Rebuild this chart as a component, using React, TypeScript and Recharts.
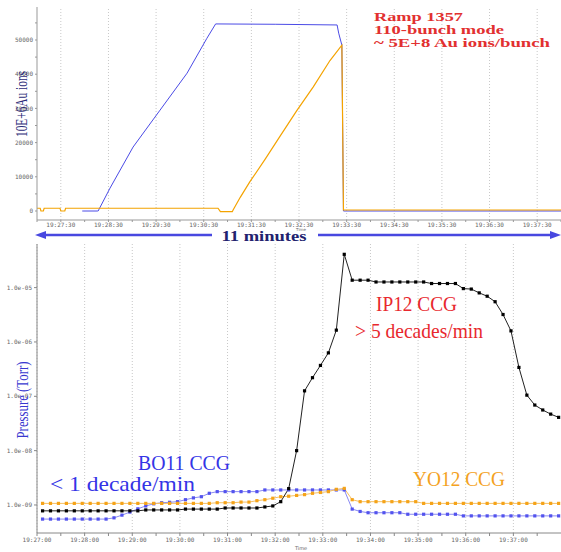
import React from "react";
import { LineChart, Line, XAxis, YAxis, ReferenceLine } from "recharts";

// all times are seconds after 19:27:00

// top panel: beam intensity (10E+6 Au ions)
const blueRingTimes = [57, 58, 76, 77, 92, 121, 155, 189, 214, 225, 300, 378, 380, 384, 386, 660];
const blueRingValues = [0, 0, 0, 0, 6700, 18700, 29500, 40300, 50500, 54700, 54600, 54400, 52000, 48500, 0, 0];
const yellowRingTimes = [0, 4, 5, 8, 9, 29, 30, 35, 36, 228, 231, 246, 247, 256, 268, 287, 306, 327, 348, 369, 384, 386, 660];
const yellowRingValues = [800, 800, 0, 0, 800, 800, 0, 0, 800, 800, -200, -200, 300, 4000, 8500, 15000, 21800, 29300, 36300, 44000, 48500, 300, 300];
const beamTicks = [0, 30, 60, 90, 120, 150, 180, 210, 240, 270, 300, 330, 360, 390, 420, 450, 480, 510, 540, 570, 600, 630, 660];
const beamLabelTimes = [30, 90, 150, 210, 270, 330, 390, 450, 510, 570, 630];
const beamYTicks = [0, 5000, 10000, 15000, 20000, 25000, 30000, 35000, 40000, 45000, 50000, 55000];

// bottom panel: CCG pressures (Torr)
const ccgTimes = [
  7, 17, 27, 37, 47, 57, 67, 77, 87, 97, 107, 117, 127, 137, 147, 157, 167, 177, 187, 197, 207, 217,
  227, 237, 247, 257, 267, 277, 287, 297, 307, 317, 327, 337, 347, 357, 367, 377, 387, 397, 407, 417,
  427, 437, 447, 457, 467, 477, 487, 497, 507, 517, 527, 537, 547, 557, 567, 577, 587, 597, 607, 617,
  627, 637, 647, 657,
];
const ip12 = [
  7.8e-10, 7.8e-10, 7.8e-10, 7.8e-10, 7.8e-10, 7.8e-10, 7.8e-10, 7.8e-10, 7.8e-10, 7.8e-10, 7.8e-10, 7.8e-10, 7.8e-10,
  8.1e-10, 8.1e-10, 8.1e-10, 8.1e-10, 8.1e-10,
  8.4e-10, 8.4e-10, 8.4e-10, 8.4e-10, 8.4e-10,
  8.8e-10, 8.8e-10, 8.8e-10, 8.8e-10, 8.8e-10,
  9.2e-10, 9.6e-10, 1.15e-9, 2.0e-9, 1.0e-8, 1.26e-7, 2.2e-7, 3.7e-7, 6.3e-7, 1.65e-6, 4.1e-5,
  1.37e-5, 1.37e-5, 1.37e-5,
  1.27e-5, 1.27e-5, 1.27e-5, 1.27e-5, 1.27e-5, 1.27e-5, 1.27e-5,
  1.19e-5, 1.19e-5, 1.19e-5, 1.19e-5,
  9.6e-6, 9.4e-6, 8.0e-6, 6.95e-6, 5.5e-6, 3.2e-6, 1.6e-6, 3.4e-7, 1.05e-7, 6.9e-8, 5.6e-8, 4.7e-8, 4.1e-8,
];
const bo11 = [
  5.5e-10, 5.5e-10, 5.5e-10, 5.5e-10, 5.5e-10, 5.5e-10, 5.5e-10, 5.5e-10, 5.5e-10,
  5.8e-10, 6.5e-10, 7.4e-10, 8.5e-10, 9.6e-10, 1.05e-9, 1.1e-9, 1.12e-9, 1.15e-9, 1.25e-9, 1.35e-9, 1.42e-9, 1.64e-9,
  1.76e-9, 1.76e-9, 1.76e-9, 1.76e-9, 1.76e-9, 1.76e-9,
  1.89e-9, 1.89e-9, 1.89e-9, 1.89e-9, 1.89e-9, 1.89e-9, 1.89e-9, 1.89e-9, 1.89e-9, 1.89e-9, 1.89e-9,
  8.4e-10, 7.6e-10,
  7.2e-10, 7.2e-10, 7.2e-10, 7.2e-10, 7.2e-10,
  6.75e-10, 6.75e-10, 6.75e-10, 6.75e-10, 6.75e-10, 6.75e-10, 6.75e-10,
  6.3e-10, 6.3e-10, 6.3e-10, 6.3e-10, 6.3e-10, 6.3e-10, 6.3e-10, 6.3e-10, 6.3e-10, 6.3e-10, 6.3e-10, 6.3e-10, 6.3e-10,
];
const yo12 = [
  1.07e-9, 1.07e-9, 1.07e-9, 1.07e-9, 1.07e-9, 1.07e-9, 1.07e-9, 1.07e-9, 1.07e-9, 1.07e-9, 1.07e-9,
  1.07e-9, 1.07e-9, 1.07e-9, 1.07e-9, 1.07e-9, 1.07e-9, 1.07e-9, 1.07e-9, 1.07e-9, 1.07e-9, 1.07e-9,
  1.1e-9, 1.1e-9, 1.1e-9, 1.13e-9, 1.13e-9, 1.2e-9, 1.25e-9, 1.33e-9, 1.42e-9, 1.45e-9, 1.5e-9, 1.55e-9,
  1.64e-9, 1.7e-9, 1.76e-9, 1.94e-9, 2.02e-9,
  1.25e-9,
  1.15e-9, 1.15e-9, 1.15e-9, 1.15e-9, 1.15e-9, 1.15e-9, 1.15e-9, 1.15e-9,
  1.07e-9, 1.07e-9, 1.07e-9, 1.07e-9, 1.07e-9, 1.07e-9, 1.07e-9, 1.07e-9, 1.07e-9,
  1.07e-9, 1.07e-9, 1.07e-9, 1.07e-9, 1.07e-9, 1.07e-9, 1.07e-9, 1.07e-9, 1.07e-9,
];
const ccgTicks = [0, 30, 60, 90, 120, 150, 180, 210, 240, 270, 300, 330, 360, 390, 420, 450, 480, 510, 540, 570, 600, 630];
const ccgLabelTimes = [0, 60, 120, 180, 240, 300, 360, 420, 480, 540, 600];
const ccgYTicks = [1e-9, 1e-8, 1e-7, 1e-6, 1e-5];

const blueData = blueRingTimes.map((t, i) => ({ t, v: blueRingValues[i] }));
const yellowData = yellowRingTimes.map((t, i) => ({ t, v: yellowRingValues[i] }));
const ccgData = ccgTimes.map((t, i) => ({ t, ip12: ip12[i], bo11: bo11[i], yo12: yo12[i] }));

const clock = (s: number) => {
  const m = 27 + Math.floor(s / 60);
  const ss = s % 60;
  return `19:${m}:${ss < 10 ? "0" + ss : ss}`;
};

const expLabel = (v: number) => v.toExponential(1).replace(/e([+-])(\d)$/, "e$10$2");

const tickStyle = { fontSize: 6, fill: "#666", fontFamily: "DejaVu Sans Mono" };
const serif = "Liberation Serif";
const gridStroke = "#c8c8c8";

const squareDot = (color: string, size: number) => (props: any) => {
  const { cx, cy, index } = props;
  if (cx == null || cy == null) return <g key={index} />;
  return <rect key={index} x={cx - size / 2} y={cy - size / 2} width={size} height={size} fill={color} />;
};

export default function App() {
  return (
    <div style={{ position: "absolute", left: 0, top: 0, width: 561, height: 552, background: "#fff" }}>
      <div style={{ position: "absolute", left: 0, top: 0 }}>
        <LineChart width={561} height={232} margin={{ top: 7, right: 0, bottom: 0, left: 0 }}>
          <XAxis
            dataKey="t"
            type="number"
            domain={[0, 660]}
            ticks={beamTicks}
            interval={0}
            allowDataOverflow
            tickFormatter={(s: number) => (beamLabelTimes.includes(s) ? clock(s) : "")}
            height={12}
            tickSize={2}
            tickMargin={1}
            tick={tickStyle}
            stroke="#999"
          />
          <XAxis xAxisId="frame" orientation="top" type="number" domain={[0, 660]} tick={false} tickLine={false} height={0} stroke="#aaa" />
          <YAxis
            type="number"
            domain={[-2630, 59650]}
            ticks={beamYTicks}
            interval={0}
            allowDataOverflow
            tickFormatter={(v: number) => (v % 10000 === 0 ? String(v) : "")}
            width={37}
            tickSize={2}
            tickMargin={2}
            tick={tickStyle}
            stroke="#999"
          />
          {beamLabelTimes.map((t) => (
            <ReferenceLine key={t} x={t} stroke={gridStroke} strokeDasharray="1 2" />
          ))}
          <Line data={blueData} dataKey="v" type="linear" stroke="#4b4be6" strokeWidth={1} dot={false} isAnimationActive={false} />
          <Line data={yellowData} dataKey="v" type="linear" stroke="#f4a300" strokeWidth={1.2} dot={false} isAnimationActive={false} />
        </LineChart>
      </div>

      <div style={{ position: "absolute", left: 0, top: 240 }}>
        <LineChart width={561} height={312} data={ccgData} margin={{ top: 4, right: 0, bottom: 0, left: 0 }}>
          <XAxis
            dataKey="t"
            type="number"
            domain={[0, 660]}
            ticks={ccgTicks}
            interval={0}
            allowDataOverflow
            tickFormatter={(s: number) => (ccgLabelTimes.includes(s) ? clock(s) : "")}
            height={19}
            tickSize={3}
            tickMargin={2}
            tick={tickStyle}
            stroke="#888"
          />
          <XAxis xAxisId="frame" orientation="top" type="number" domain={[0, 660]} tick={false} tickLine={false} height={0} stroke="#999" />
          <YAxis
            type="number"
            scale="log"
            domain={[3.05e-10, 6.35e-5]}
            ticks={ccgYTicks}
            interval={0}
            allowDataOverflow
            tickFormatter={expLabel}
            width={37}
            tickSize={3}
            tickMargin={2}
            tick={tickStyle}
            stroke="#888"
          />
          {ccgLabelTimes.map((t) => (
            <ReferenceLine key={t} x={t} stroke={gridStroke} strokeDasharray="1 2" />
          ))}
          <Line dataKey="bo11" type="linear" stroke="#8a8af2" strokeWidth={1} dot={squareDot("#5353ee", 3.2)} isAnimationActive={false} />
          <Line dataKey="yo12" type="linear" stroke="#f6c060" strokeWidth={1} dot={squareDot("#f5a318", 3.2)} isAnimationActive={false} />
          <Line dataKey="ip12" type="linear" stroke="#222" strokeWidth={1} dot={squareDot("#000", 3.2)} isAnimationActive={false} />
        </LineChart>
      </div>

      <svg width={561} height={552} style={{ position: "absolute", left: 0, top: 0, pointerEvents: "none" }}>
        <text x={21} y={104} transform="rotate(-90 21 104)" textAnchor="middle" dominantBaseline="central" fontFamily={serif} fontSize={17} fill="#2c2c78" textLength={66} lengthAdjust="spacingAndGlyphs">
          10E+6Au ions
        </text>
        <g fontFamily={serif} fontSize={12.5} fontWeight="bold" fill="#e23030">
          <text x={374} y={21} textLength={89} lengthAdjust="spacingAndGlyphs">Ramp 1357</text>
          <text x={374} y={34} textLength={130} lengthAdjust="spacingAndGlyphs">110-bunch mode</text>
          <text x={374} y={46.5} textLength={176} lengthAdjust="spacingAndGlyphs">~ 5E+8 Au ions/bunch</text>
        </g>
        <text x={301} y={230.5} textAnchor="middle" fontSize={4} fill="#666" fontFamily="DejaVu Sans">Time</text>

        <line x1={44} y1={235} x2={212} y2={235} stroke="#4848e0" strokeWidth={2.5} />
        <polygon points="35,235 46,231 46,239" fill="#4848e0" />
        <line x1={318} y1={235} x2={551} y2={235} stroke="#4848e0" strokeWidth={2.5} />
        <polygon points="561,235 550,231 550,239" fill="#4848e0" />
        <text x={264} y={241} textAnchor="middle" fontFamily={serif} fontSize={15.5} fontWeight="bold" fill="#22226e" textLength={85} lengthAdjust="spacingAndGlyphs">
          11 minutes
        </text>

        <text x={22} y={400} transform="rotate(-90 22 400)" textAnchor="middle" dominantBaseline="central" fontFamily={serif} fontSize={17} fill="#3838d0" textLength={77} lengthAdjust="spacingAndGlyphs">
          Pressure (Torr)
        </text>
        <g fontFamily={serif} fontSize={21} fill="#e8282e">
          <text x={376} y={311} textLength={81} lengthAdjust="spacingAndGlyphs">IP12 CCG</text>
          <text x={355} y={338} textLength={128} lengthAdjust="spacingAndGlyphs">&gt; 5 decades/min</text>
        </g>
        <g fontFamily={serif} fontSize={22} fill="#3434e6">
          <text x={138} y={470} textLength={92} lengthAdjust="spacingAndGlyphs">BO11 CCG</text>
          <text x={50} y={491} textLength={145} lengthAdjust="spacingAndGlyphs">&lt; 1 decade/min</text>
        </g>
        <text x={413} y={486} fontFamily={serif} fontSize={22} fill="#f4a21e" textLength={92} lengthAdjust="spacingAndGlyphs">YO12 CCG</text>
        <text x={301} y={550} textAnchor="middle" fontSize={5} fill="#666" fontFamily="DejaVu Sans">Time</text>
      </svg>
    </div>
  );
}
